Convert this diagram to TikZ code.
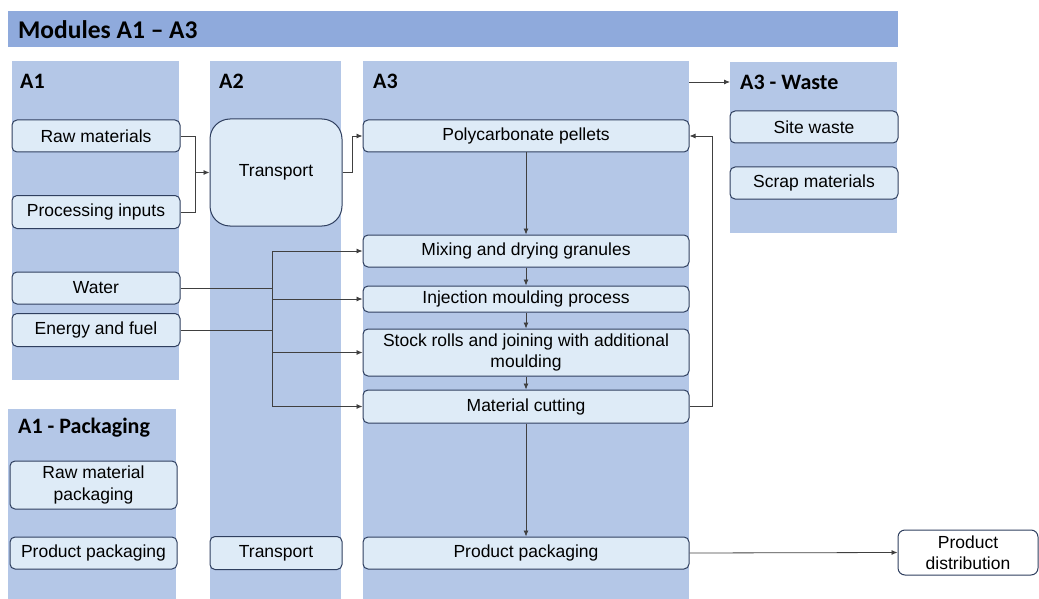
\documentclass[tikz,border=0pt]{standalone}
\usepackage{fontspec}
\setmainfont{Liberation Sans}
\newfontfamily\hdfont{Carlito}
\usetikzlibrary{arrows.meta}
\definecolor{hdr}{HTML}{8FAADC}
\definecolor{colbg}{HTML}{B4C7E7}
\definecolor{boxfill}{HTML}{DEEBF7}
\definecolor{boxline}{HTML}{2F3F5F}
\definecolor{conncol}{HTML}{404040}
\tikzset{
  colbox/.style={fill=colbg, draw=none, inner sep=0pt, anchor=north west},
  collabel/.style={font=\hdfont\bfseries\fontsize{22}{24}\selectfont, anchor=west, inner sep=0pt},
  box/.style={draw=boxline, fill=boxfill, rounded corners=5pt, line width=1pt,
    font=\fontsize{17.5}{21.5}\selectfont, align=center, inner sep=0pt},
  line/.style={draw=conncol, line width=0.8pt},
  arr/.style={line, -{Latex[length=6pt,width=5pt]}}
}
\begin{document}
\begin{tikzpicture}[x=1pt,y=-1pt]
\useasboundingbox (0,0) rectangle (1039,599);
% header
\node[fill=hdr, inner sep=0pt, minimum width=890pt, minimum height=36pt, anchor=north west] (hdr) at (8,11) {};
\node[font=\hdfont\bfseries\fontsize{25.5}{27}\selectfont, anchor=west, inner sep=0pt] (title) at (18,29.5) {Modules A1 – A3};
% columns
\node[colbox, minimum width=167pt, minimum height=319pt] (cA1) at (12,61) {};
\node[colbox, minimum width=168pt, minimum height=190pt] (cA1P) at (8,409) {};
\node[colbox, minimum width=131pt, minimum height=538pt] (cA2) at (210,61) {};
\node[colbox, minimum width=326pt, minimum height=538pt] (cA3) at (363,61) {};
\node[colbox, minimum width=167pt, minimum height=171pt] (cW) at (730,62) {};
\node[collabel] (lA1) at (20,81) {A1};
\node[collabel] (lA2) at (219,81) {A2};
\node[collabel] (lA3) at (373,81) {A3};
\node[collabel] (lW) at (740,82) {A3 - Waste};
\node[collabel] (lP) at (18,428) {A1 - Packaging};
% A1 boxes
\node[box, minimum width=168pt, minimum height=32pt] (raw) at (96,136) {Raw materials};
\node[box, minimum width=168pt, minimum height=33pt] (proc) at (96,212) {Processing inputs};
\node[box, minimum width=168pt, minimum height=32pt] (water) at (96,288) {Water};
\node[box, minimum width=168pt, minimum height=33pt] (energy) at (96,330) {Energy and fuel};
% A1 packaging
\node[box, minimum width=167pt, minimum height=48pt] (rmp) at (93.5,485) {Raw material\\packaging};
\node[box, minimum width=167pt, minimum height=32pt] (pp1) at (93.5,553) {Product packaging};
% A2
\node[box, rounded corners=20pt, minimum width=132pt, minimum height=107pt] (trans) at (276,172.5) {Transport};
\node[box, minimum width=132pt, minimum height=33pt] (trans2) at (276,553) {Transport};
% A3
\node[box, minimum width=326pt, minimum height=32pt] (pc) at (526,136) {Polycarbonate pellets};
\node[box, minimum width=326pt, minimum height=32pt] (mix) at (526,251) {Mixing and drying granules};
\node[box, minimum width=326pt, minimum height=26pt] (inj) at (526,299) {Injection moulding process};
\node[box, minimum width=326pt, minimum height=47pt] (stock) at (526,352.5) {Stock rolls and joining with additional\\moulding};
\node[box, minimum width=326pt, minimum height=33pt] (cut) at (526,406.5) {Material cutting};
\node[box, minimum width=326pt, minimum height=32pt] (pp3) at (526,553) {Product packaging};
% waste
\node[box, minimum width=168pt, minimum height=32pt] (site) at (814,127) {Site waste};
\node[box, minimum width=168pt, minimum height=32pt] (scrap) at (814,183) {Scrap materials};
% distribution
\node[box, fill=white, rounded corners=7pt, minimum width=140pt, minimum height=45pt] (dist) at (968,552.5) {Product\\distribution};
% connectors
\coordinate (j1) at (195,172.5);
\draw[line] (raw.east) -| (j1);
\draw[line] (proc.east) -| (j1);
\draw[arr] (j1) -- (trans.west);
\draw[arr] (trans.east) -- ++(10,0) |- (pc.west);
\draw[arr] (pc.south) -- (mix.north);
\draw[arr] (mix.south) -- (inj.north);
\draw[arr] (inj.south) -- (stock.north);
\draw[arr] (stock.south) -- (cut.north);
\draw[arr] (cut.south) -- (pp3.north);
\draw[arr] (cut.east) -- ++(23,0) |- (pc.east);
\draw[arr] (cA3.east |- lW) -- (cW.west |- lW);
\coordinate (bt) at (272,251);
\coordinate (bb) at (272,406.5);
\draw[line] (water.east) -- (water.east -| bt);
\draw[line] (energy.east) -- (energy.east -| bt);
\draw[line] (bt) -- (bb);
\draw[arr] (bt) -- (mix.west);
\draw[arr] (bt |- inj.west) -- (inj.west);
\draw[arr] (bt |- stock.west) -- (stock.west);
\draw[arr] (bb) -- (cut.west);
\draw[arr] (pp3.east) -- (dist.west);
\end{tikzpicture}
\end{document}
